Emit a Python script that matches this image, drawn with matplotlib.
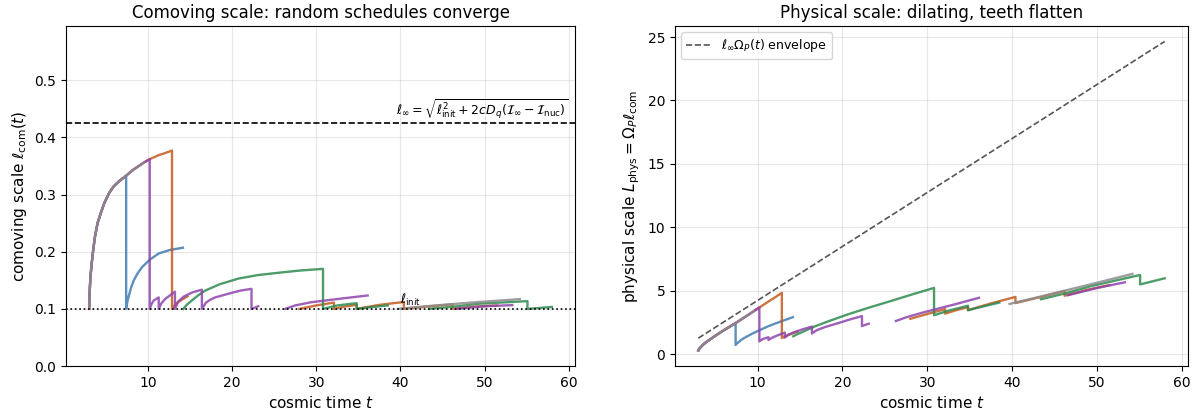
import numpy as np
import matplotlib
matplotlib.use('Agg')
import matplotlib.pyplot as plt

l_init = 0.1
l_inf = 0.425

# shared growth right after nucleation (cosmic time, comoving scale)
base_t = [3.0, 3.07, 3.15, 3.3, 3.5, 3.69, 4.0, 4.37, 4.8, 5.35, 5.9, 6.53, 7.4,
          8.1, 8.9, 9.5, 10.2, 11.27, 11.9, 12.85]
base_l = [0.100, 0.132, 0.155, 0.179, 0.205, 0.226, 0.250, 0.267, 0.285, 0.302, 0.314, 0.323, 0.333,
          0.342, 0.350, 0.356, 0.362, 0.369, 0.372, 0.377]

# each schedule: where it leaves the shared curve, then its runs (t, l)
blue_leave = 7.4
blue_runs = [
    ([7.4, 7.55, 7.72, 8.0, 8.31, 8.8, 9.29, 10.2, 11.27, 12.6, 14.15],
     [0.100, 0.113, 0.123, 0.138, 0.150, 0.163, 0.173, 0.186, 0.197, 0.203, 0.207]),
]

orange_leave = 12.85
orange_runs = [
    ([12.85, 13.1, 13.5, 14.0, 14.7],
     [0.100, 0.105, 0.111, 0.116, 0.122]),
    ([28.0, 30.0, 32.1, 32.1, 33.4, 34.8, 34.8, 37.5, 40.4, 40.4, 43.2, 46.2, 46.2, 48.8, 51.5],
     [0.100, 0.106, 0.111, 0.100, 0.104, 0.107, 0.100, 0.107, 0.112, 0.100, 0.104, 0.108, 0.100, 0.104, 0.106]),
]

green_leave = None
green_runs = [
    ([14.2, 14.6, 15.2, 16.0, 16.8, 18.5, 20.75, 23.0, 25.4, 28.0, 30.8, 30.8, 32.5, 34.8, 34.8, 36.5, 38.5],
     [0.100, 0.107, 0.1146, 0.124, 0.132, 0.143, 0.153, 0.159, 0.163, 0.167, 0.170,
      0.100, 0.106, 0.110, 0.100, 0.103, 0.106]),
    ([43.4, 46.4, 49.3, 55.1, 55.1, 58.0],
     [0.100, 0.104, 0.109, 0.1135, 0.100, 0.1033]),
]

purple_leave = 10.2
purple_runs = [
    ([10.2, 10.4, 10.67, 11.27, 11.27, 11.6, 12.06, 13.2, 13.2, 13.6, 14.3, 15.3, 16.4,
      16.4, 16.9, 17.4, 17.97, 19.94, 21.0, 22.3, 22.3, 23.1],
     [0.100, 0.108, 0.1146, 0.120, 0.100, 0.110, 0.1176, 0.130, 0.100, 0.113, 0.122, 0.129, 0.1335,
      0.100, 0.111, 0.116, 0.120, 0.128, 0.132, 0.135, 0.100, 0.1046]),
    ([26.3, 27.5, 29.4, 33.36, 36.1],
     [0.100, 0.106, 0.1116, 0.1187, 0.1234]),
    ([46.6, 50.1, 53.3],
     [0.100, 0.1046, 0.1065]),
]

gray_leave = 9.5
gray_runs = [
    ([39.7, 43.4, 49.3, 54.2],
     [0.100, 0.105, 0.112, 0.117]),
]

schedules = [
    ('#3f7bb0', blue_leave, blue_runs),
    ('#c45a1e', orange_leave, orange_runs),
    ('#2e8b4f', green_leave, green_runs),
    ('#8e44ad', purple_leave, purple_runs),
    ('#8c8c8c', gray_leave, gray_runs),
]

env_t = [3.0, 58.0]


def omega_p(t):
    # dilation factor: grows linearly with t
    return np.asarray(t, dtype=float)


fig = plt.figure(figsize=(11.98, 4.16), dpi=100)
ax1 = fig.add_axes([66 / 1198, 50 / 416, 509 / 1198, 340 / 416])
ax2 = fig.add_axes([675 / 1198, 50 / 416, 513 / 1198, 340 / 416])

for color, leave, runs in schedules:
    all_runs = []
    if leave is not None:
        k = base_t.index(leave) + 1
        first_t, first_l = runs[0]
        if first_t[0] == leave:
            all_runs.append((base_t[:k] + first_t, base_l[:k] + first_l))
            all_runs += runs[1:]
        else:
            all_runs.append((base_t[:k], base_l[:k]))
            all_runs += runs
    else:
        all_runs = runs
    for t, l in all_runs:
        t = np.array(t)
        l = np.array(l)
        ax1.plot(t, l, color=color, lw=1.7, alpha=0.85)
        ax2.plot(t, omega_p(t) * l, color=color, lw=1.7, alpha=0.85)

ax1.axhline(l_inf, color='black', ls='--', lw=1.2)
ax1.axhline(l_init, color='black', ls=':', lw=1.2)
ax1.text(60, l_inf + 0.004,
         r'$\ell_\infty=\sqrt{\ell_{\rm init}^2+2cD_q(\mathcal{I}_\infty-\mathcal{I}_{\rm nuc})}$',
         ha='right', va='bottom', fontsize=9)
ax1.text(40, l_init + 0.002, r'$\ell_{\rm init}$', ha='left', va='bottom', fontsize=9)
ax1.set_ylim(0, 1.4 * l_inf)
ax1.set_xlabel(r'cosmic time $t$', fontsize=11)
ax1.set_ylabel(r'comoving scale $\ell_{\rm com}(t)$', fontsize=11)
ax1.set_title('Comoving scale: random schedules converge', fontsize=12)
ax1.grid(alpha=0.3)

ax2.plot(env_t, l_inf * omega_p(env_t), color='#555555', ls='--', lw=1.2,
         label=r'$\ell_\infty\Omega_P(t)$ envelope')
ax2.set_xlabel(r'cosmic time $t$', fontsize=11)
ax2.set_ylabel(r'physical scale $L_{\rm phys}=\Omega_P\ell_{\rm com}$', fontsize=11)
ax2.set_title('Physical scale: dilating, teeth flatten', fontsize=12)
ax2.legend(loc='upper left', fontsize=9)
ax2.grid(alpha=0.3)

for ax in (ax1, ax2):
    ax.tick_params(labelsize=10)

fig.savefig('out.png', dpi=100)
